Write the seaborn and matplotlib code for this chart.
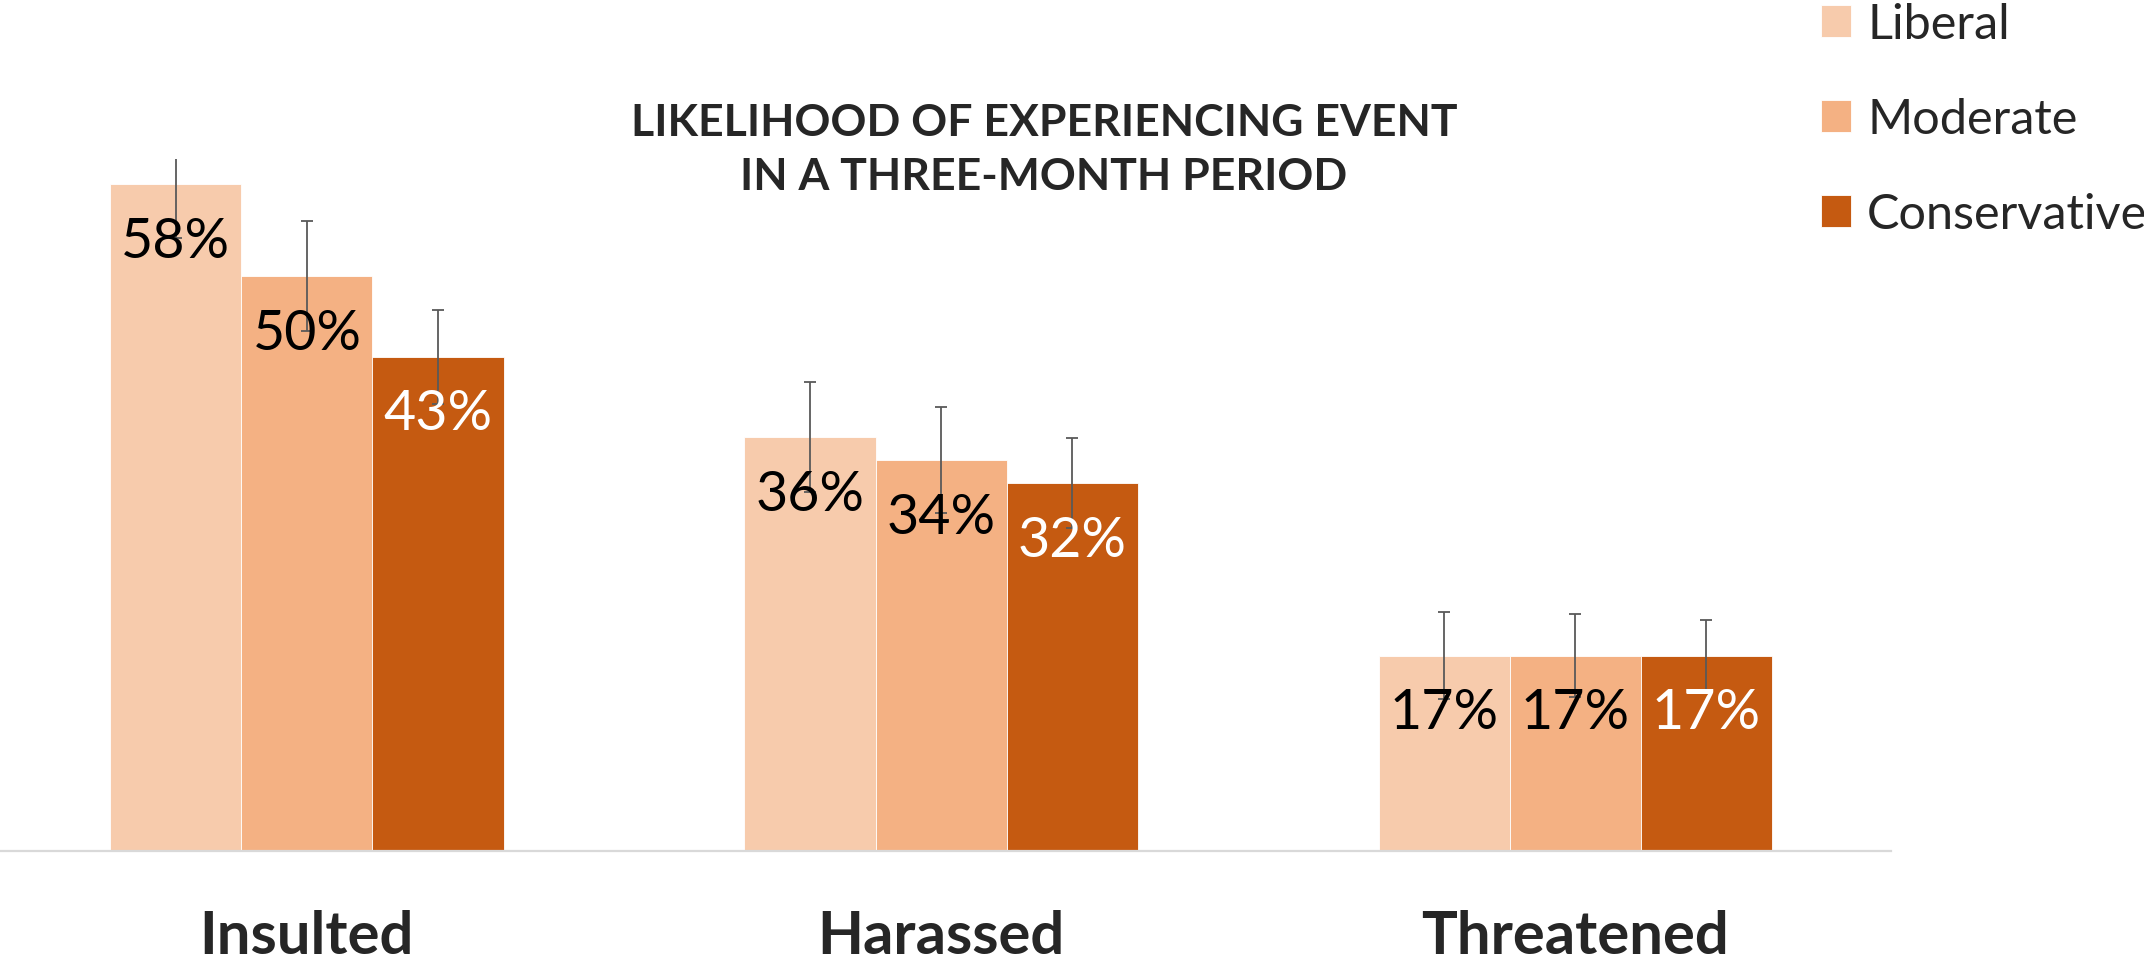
"""Likelihood of experiencing an event, by political leaning."""

import matplotlib
matplotlib.use("Agg")
import matplotlib.pyplot as plt
import pandas as pd
import seaborn as sns

CATEGORIES = ["Insulted", "Harassed", "Threatened"]
GROUPS = ["Liberal", "Moderate", "Conservative"]
# percent values per category, in GROUPS order
INSULTED = [58, 50, 43]
HARASSED = [36, 34, 32]
THREATENED = [17, 17, 17]
# half-width of the error bars (percentage points)
INSULTED_ERR = [4.7, 4.8, 4.1]
HARASSED_ERR = [4.8, 4.6, 3.9]
THREATENED_ERR = [3.8, 3.6, 3.1]

TITLE = "LIKELIHOOD OF EXPERIENCING EVENT\nIN A THREE-MONTH PERIOD"

PALETTE = {"Liberal": "#F7CBAC", "Moderate": "#F4B183", "Conservative": "#C55A11"}
LABEL_COLORS = {"Liberal": "black", "Moderate": "black", "Conservative": "white"}
ERR_GRAY = "#595959"
AXIS_GRAY = "#D9D9D9"

W, H, DPI = 2144, 962, 100


def build_frame():
    rows = []
    for cat, vals, errs in zip(
        CATEGORIES,
        [INSULTED, HARASSED, THREATENED],
        [INSULTED_ERR, HARASSED_ERR, THREATENED_ERR],
    ):
        for group, v, e in zip(GROUPS, vals, errs):
            rows.append({"event": cat, "group": group, "pct": v, "err": e})
    return pd.DataFrame(rows)


def main():
    sns.set_theme(style="white")
    plt.rcParams["font.family"] = ["Lato", "DejaVu Sans"]

    data = build_frame()
    fig = plt.figure(figsize=(W / DPI, H / DPI), dpi=DPI)
    ax = fig.add_axes([0, 110 / H, 1891 / W, (852 - 160) / H])

    sns.barplot(
        data=data,
        x="event",
        y="pct",
        hue="group",
        order=CATEGORIES,
        hue_order=GROUPS,
        palette=PALETTE,
        saturation=1,
        width=0.62,
        errorbar=None,
        edgecolor="white",
        linewidth=0.6,
        legend=True,
        ax=ax,
    )

    # bars come out grouped by hue, then by category
    for g_idx, group in enumerate(GROUPS):
        container = ax.containers[g_idx]
        sub = data[data.group == group].set_index("event").loc[CATEGORIES]
        xs = [p.get_x() + p.get_width() / 2 for p in container.patches]
        ax.errorbar(
            xs,
            sub["pct"],
            yerr=sub["err"],
            fmt="none",
            ecolor=ERR_GRAY,
            elinewidth=1.3,
            capsize=4.5,
            capthick=1.3,
            zorder=3,
        )
        for x, v in zip(xs, sub["pct"]):
            ax.annotate(
                f"{v:.0f}%",
                (x, v),
                xytext=(0, -41),
                textcoords="offset points",
                ha="center",
                va="center",
                fontsize=40,
                color=LABEL_COLORS[group],
                zorder=4,
            )

    ax.set_xlim(-0.484, 2.498)
    ax.set_ylim(0, 60.2)
    ax.set_xlabel("")
    ax.set_ylabel("")
    ax.set_yticks([])
    ax.tick_params(axis="x", length=0, pad=42, labelsize=43)
    for lab in ax.get_xticklabels():
        lab.set_fontweight("bold")
    for side in ["left", "right", "top"]:
        ax.spines[side].set_visible(False)
    ax.spines["bottom"].set_color(AXIS_GRAY)
    ax.spines["bottom"].set_linewidth(1.6)

    handles, labels = ax.get_legend_handles_labels()
    ax.legend_.remove()
    fig.legend(
        handles,
        labels,
        loc="upper left",
        bbox_to_anchor=(1821 / W, 1 - 3 / H),
        frameon=False,
        fontsize=35,
        handlelength=0.62,
        handleheight=0.62,
        handletextpad=0.33,
        labelspacing=1.05,
        borderpad=0,
        borderaxespad=0,
    )

    fig.text(
        1044 / W,
        1 - 150 / H,
        TITLE,
        ha="center",
        va="center",
        fontsize=32,
        fontweight="bold",
        linespacing=1.4,
    )

    fig.savefig("out.png", dpi=DPI, facecolor="white")
    plt.close(fig)


if __name__ == "__main__":
    main()
